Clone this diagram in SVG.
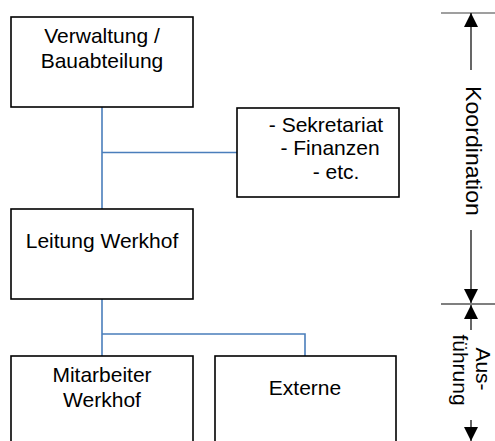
<svg xmlns="http://www.w3.org/2000/svg" width="495" height="441" viewBox="0 0 495 441">
<defs>
<style>
.box{fill:#fff;stroke:#000;stroke-width:1.6}
.t{font-family:"Liberation Sans",Arial,sans-serif;font-size:21px;fill:#000;text-anchor:middle}
.r{font-size:22px}
.c{fill:none;stroke:#4a7ebb;stroke-width:1.6}
.a{fill:none;stroke:#000;stroke-width:1.2}
</style>
<marker id="ah" markerUnits="userSpaceOnUse" markerWidth="14" markerHeight="14" viewBox="0 0 14 14" refX="14" refY="7" orient="auto">
<path d="M0,0 L14,7 L0,14 Z" fill="#000"/>
</marker>
</defs>
<g id="connectors">
<path class="c" d="M102,107 V209"/>
<path class="c" d="M102,152.5 H237"/>
<path class="c" d="M102,299 V356"/>
<path class="c" d="M102,334 H305 V356"/>
</g>
<g id="verwaltung">
<rect class="box" x="11" y="17" width="182" height="90"/>
<text class="t" x="102" y="43">Verwaltung /</text>
<text class="t" x="102" y="68">Bauabteilung</text>
</g>
<g id="sekretariat">
<rect class="box" x="237" y="108" width="162" height="89"/>
<text class="t" x="326" y="132">- Sekretariat</text>
<text class="t" x="330" y="155">- Finanzen</text>
<text class="t" x="336" y="179">- etc.</text>
</g>
<g id="leitung">
<rect class="box" x="11" y="209" width="182" height="90"/>
<text class="t" x="102" y="248">Leitung Werkhof</text>
</g>
<g id="mitarbeiter">
<rect class="box" x="11" y="356" width="182" height="100"/>
<text class="t" x="102" y="382">Mitarbeiter</text>
<text class="t" x="102" y="407">Werkhof</text>
</g>
<g id="externe">
<rect class="box" x="215" y="356" width="181" height="100"/>
<text class="t" x="305" y="395">Externe</text>
</g>
<g id="scale">
<line x1="441" y1="13" x2="495" y2="13" stroke="#7f7f7f" stroke-width="1.5"/>
<line x1="441" y1="304" x2="495" y2="304" stroke="#000" stroke-width="1.2"/>
<line class="a" x1="471" y1="70" x2="471" y2="13" marker-end="url(#ah)"/>
<line class="a" x1="471" y1="230" x2="471" y2="303" marker-end="url(#ah)"/>
<line class="a" x1="471" y1="330" x2="471" y2="305" marker-end="url(#ah)"/>
<line class="a" x1="471" y1="420" x2="471" y2="441" marker-end="url(#ah)"/>
<text class="t r" transform="translate(466,151) rotate(90)" textLength="130" lengthAdjust="spacingAndGlyphs" x="0" y="0">Koordination</text>
<text class="t" transform="translate(476,369) rotate(90)">Aus-</text>
<text class="t" transform="translate(453,370) rotate(90)">führung</text>
</g>
</svg>
